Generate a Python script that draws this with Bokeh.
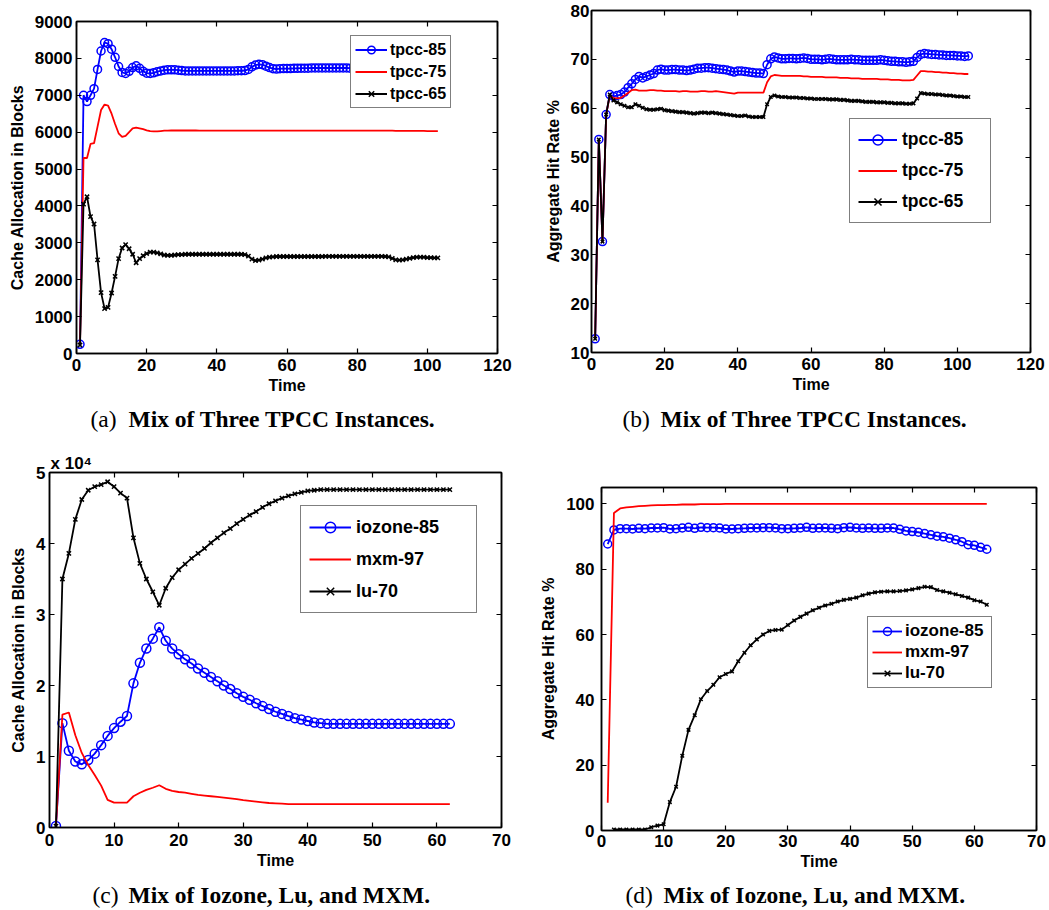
from bokeh.plotting import figure
from bokeh.layouts import column, row
from bokeh.models import Label, Legend, LegendItem, LinearAxis, FixedTicker, Range1d, Title
from bokeh.embed import file_html
from bokeh.resources import INLINE

SANS = "Liberation Sans"
SERIF = "Liberation Serif"
BLUE = "#0000ff"
RED = "#ff0000"
BLACK = "#000000"

# ---------------- data: (a) cache allocation, three TPCC instances ----------------
time_a = list(range(1, 104))
tpcc85_alloc = [
    250, 7000, 6830, 7000, 7180, 7700, 8200, 8430, 8400, 8250,
    8030, 7780, 7620, 7590, 7650, 7750, 7800, 7730, 7650, 7600,
    7590, 7610, 7640, 7660, 7680, 7690, 7690, 7690, 7680, 7670,
    7660, 7660, 7660, 7660, 7660, 7660, 7660, 7660, 7660, 7660,
    7660, 7660, 7660, 7660, 7660, 7665, 7665, 7670, 7700, 7770,
    7820, 7840, 7830, 7790, 7750, 7720, 7710, 7720, 7725, 7725,
    7725, 7730, 7730, 7735, 7735, 7735, 7740, 7740, 7740, 7740,
    7740, 7740, 7740, 7740, 7740, 7740, 7740, 7735, 7735, 7730,
    7730, 7730, 7730, 7730, 7730, 7730, 7730, 7730, 7730, 7730,
    7730, 7730, 7730, 7730, 7730, 7730, 7730, 7730, 7730, 7725,
    7725, 7725, 7720]
tpcc75_alloc = [
    230, 5300, 5300, 5680, 5700, 6150, 6600, 6750, 6720, 6500,
    6220, 5970, 5870, 5900, 6000, 6100, 6120, 6100, 6080, 6050,
    6030, 6020, 6020, 6030, 6040, 6040, 6045, 6045, 6045, 6045,
    6045, 6045, 6045, 6045, 6040, 6040, 6040, 6040, 6040, 6040,
    6040, 6040, 6040, 6040, 6040, 6040, 6040, 6040, 6040, 6040,
    6040, 6040, 6040, 6040, 6040, 6040, 6040, 6040, 6040, 6040,
    6040, 6040, 6040, 6040, 6040, 6040, 6040, 6040, 6040, 6040,
    6040, 6040, 6040, 6040, 6040, 6040, 6040, 6040, 6040, 6040,
    6040, 6040, 6040, 6040, 6040, 6040, 6040, 6040, 6040, 6040,
    6035, 6035, 6035, 6035, 6035, 6035, 6035, 6035, 6035, 6030,
    6030, 6030, 6030]
tpcc65_alloc = [
    230, 4050, 4250, 3710, 3510, 2540, 1650, 1215, 1250, 1640,
    2090, 2570, 2860, 2950, 2840, 2690, 2460, 2570, 2650, 2710,
    2750, 2750, 2730, 2700, 2670, 2660, 2660, 2670, 2680, 2680,
    2690, 2690, 2690, 2690, 2690, 2690, 2690, 2690, 2690, 2690,
    2690, 2690, 2690, 2690, 2690, 2690, 2690, 2680, 2640, 2560,
    2520, 2530, 2560, 2590, 2610, 2620, 2630, 2630, 2630, 2630,
    2630, 2630, 2630, 2630, 2630, 2630, 2630, 2630, 2630, 2630,
    2635, 2635, 2635, 2635, 2635, 2635, 2635, 2635, 2635, 2635,
    2635, 2635, 2635, 2635, 2635, 2635, 2635, 2630, 2620, 2580,
    2540, 2530, 2540, 2560, 2580, 2600, 2610, 2610, 2610, 2600,
    2600, 2590, 2590]

# ---------------- data: (b) aggregate hit rate, three TPCC instances ----------------
time_b = list(range(1, 104))
tpcc85_hit = [
    12.8, 53.6, 32.7, 58.7, 62.8, 62.4, 62.6, 62.8, 63.3, 64.2,
    65.0, 65.9, 66.5, 66.2, 66.5, 66.8, 67.1, 67.8, 68.0, 67.8,
    67.8, 67.9, 67.9, 67.8, 67.8, 67.7, 67.8, 68.0, 68.2, 68.2,
    68.3, 68.3, 68.2, 68.1, 68.0, 67.9, 67.8, 67.6, 67.4, 67.6,
    67.6, 67.5, 67.4, 67.3, 67.2, 67.2, 67.1, 68.9, 70.1, 70.5,
    70.3, 70.1, 70.1, 70.2, 70.2, 70.1, 70.2, 70.3, 70.2, 70.0,
    70.0, 70.0, 69.9, 70.0, 70.1, 70.0, 69.9, 69.9, 69.9, 69.9,
    70.0, 69.9, 69.9, 69.8, 69.8, 69.8, 69.8, 69.8, 69.9, 69.8,
    69.7, 69.6, 69.6, 69.5, 69.5, 69.4, 69.5, 69.6, 70.4, 71.0,
    71.2, 71.1, 71.0, 71.0, 70.9, 70.9, 70.8, 70.8, 70.8, 70.7,
    70.7, 70.6, 70.7]
tpcc75_hit = [
    12.8, 53.6, 32.7, 58.7, 62.6, 62.1, 62.0, 62.1, 62.6, 63.1,
    63.7, 63.8, 63.6, 63.6, 63.6, 63.7, 63.7, 63.6, 63.6, 63.5,
    63.5, 63.5, 63.5, 63.4, 63.5, 63.5, 63.4, 63.4, 63.4, 63.5,
    63.5, 63.4, 63.4, 63.5, 63.4, 63.3, 63.2, 63.1, 63.0, 63.2,
    63.2, 63.2, 63.2, 63.2, 63.2, 63.2, 63.2, 65.3, 66.5, 66.8,
    66.7, 66.6, 66.6, 66.6, 66.6, 66.6, 66.6, 66.5, 66.5, 66.4,
    66.4, 66.4, 66.4, 66.3, 66.3, 66.3, 66.3, 66.2, 66.2, 66.2,
    66.1, 66.1, 66.1, 66.0, 66.0, 66.0, 66.0, 66.0, 65.9, 65.9,
    65.9, 65.8, 65.8, 65.8, 65.7, 65.7, 65.7, 65.8, 66.7, 67.6,
    67.6, 67.5, 67.5, 67.4, 67.4, 67.3, 67.3, 67.2, 67.2, 67.1,
    67.1, 67.0, 67.0]
tpcc65_hit = [
    12.8, 53.6, 32.7, 58.7, 62.8, 61.6, 61.2, 60.8, 60.5, 60.2,
    60.2, 60.8, 60.5, 60.1, 59.8, 59.7, 59.7, 59.8, 59.9, 59.6,
    59.5, 59.4, 59.3, 59.2, 59.2, 59.1, 59.0, 58.9, 59.0, 59.1,
    59.1, 59.0, 59.1, 59.0, 58.9, 58.8, 58.7, 58.6, 58.5, 58.4,
    58.4, 58.5, 58.3, 58.2, 58.2, 58.2, 58.2, 60.8, 62.3, 62.6,
    62.4, 62.3, 62.3, 62.2, 62.2, 62.2, 62.1, 62.1, 62.0, 62.0,
    61.9, 61.9, 61.9, 61.9, 61.8, 61.8, 61.8, 61.7, 61.7, 61.6,
    61.5, 61.5, 61.5, 61.4, 61.3, 61.3, 61.3, 61.2, 61.2, 61.2,
    61.1, 61.1, 61.0, 61.0, 61.0, 60.9, 60.9, 61.0, 62.0, 63.1,
    63.0, 62.9, 62.9, 62.8, 62.8, 62.7, 62.6, 62.6, 62.5, 62.4,
    62.4, 62.3, 62.3]

# ---------------- data: (c) cache allocation (x 10^4 blocks), Iozone/Lu/MXM ----------------
time_c = list(range(1, 63))
iozone85_alloc = [
    0.02, 1.47, 1.08, 0.93, 0.89, 0.95, 1.04, 1.16, 1.29, 1.40,
    1.49, 1.57, 2.03, 2.32, 2.52, 2.66, 2.82, 2.63, 2.52, 2.44,
    2.37, 2.31, 2.24, 2.18, 2.12, 2.06, 2.00, 1.95, 1.89, 1.84,
    1.80, 1.75, 1.71, 1.67, 1.63, 1.60, 1.57, 1.54, 1.52, 1.50,
    1.48, 1.47, 1.46, 1.46, 1.46, 1.46, 1.46, 1.46, 1.46, 1.46,
    1.46, 1.46, 1.46, 1.46, 1.46, 1.46, 1.46, 1.46, 1.46, 1.46,
    1.46, 1.46]
mxm97_alloc = [
    0.02, 1.59, 1.62, 1.30, 1.05, 0.88, 0.74, 0.59, 0.39, 0.35,
    0.35, 0.35, 0.44, 0.49, 0.53, 0.56, 0.595, 0.545, 0.515, 0.50,
    0.49, 0.475, 0.46, 0.45, 0.44, 0.43, 0.42, 0.41, 0.40, 0.385,
    0.375, 0.365, 0.355, 0.345, 0.34, 0.335, 0.33, 0.33, 0.33, 0.33,
    0.33, 0.33, 0.33, 0.33, 0.33, 0.33, 0.33, 0.33, 0.33, 0.33,
    0.33, 0.33, 0.33, 0.33, 0.33, 0.33, 0.33, 0.33, 0.33, 0.33,
    0.33, 0.33]
lu70_alloc = [
    0.02, 3.50, 3.86, 4.34, 4.62, 4.75, 4.80, 4.83, 4.87, 4.80,
    4.71, 4.64, 4.08, 3.72, 3.50, 3.32, 3.13, 3.37, 3.52, 3.63,
    3.71, 3.79, 3.86, 3.93, 4.01, 4.08, 4.15, 4.21, 4.28, 4.34,
    4.40, 4.45, 4.51, 4.56, 4.60, 4.64, 4.67, 4.70, 4.72, 4.74,
    4.75, 4.76, 4.76, 4.76, 4.76, 4.76, 4.76, 4.76, 4.76, 4.76,
    4.76, 4.76, 4.76, 4.76, 4.76, 4.76, 4.76, 4.76, 4.76, 4.76,
    4.76, 4.76]

# ---------------- data: (d) aggregate hit rate, Iozone/Lu/MXM ----------------
time_d = list(range(1, 63))
iozone85_hit = [
    87.7, 92.0, 92.4, 92.4, 92.3, 92.5, 92.4, 92.6, 92.6, 92.7,
    92.3, 92.4, 92.6, 92.8, 92.5, 92.8, 92.7, 92.7, 92.6, 92.3,
    92.3, 92.4, 92.5, 92.6, 92.6, 92.7, 92.7, 92.6, 92.4, 92.4,
    92.5, 92.6, 92.8, 92.5, 92.6, 92.6, 92.5, 92.4, 92.7, 92.8,
    92.6, 92.5, 92.6, 92.5, 92.5, 92.6, 92.6, 92.2, 91.7, 91.5,
    91.3, 90.9, 90.5, 90.1, 89.9, 89.5, 89.0, 88.4, 87.5, 87.3,
    86.7, 86.1]
mxm97_hit = [
    8.5, 97.2, 98.6, 98.9, 99.1, 99.3, 99.4, 99.5, 99.6, 99.6,
    99.7, 99.7, 99.8, 99.8, 99.8, 99.9, 99.9, 99.9, 99.9, 100.0,
    100.0, 100.0, 100.0, 100.0, 100.0, 100.0, 100.0, 100.0, 100.0, 100.0,
    100.0, 100.0, 100.0, 100.0, 100.0, 100.0, 100.0, 100.0, 100.0, 100.0,
    100.0, 100.0, 100.0, 100.0, 100.0, 100.0, 100.0, 100.0, 100.0, 100.0,
    100.0, 100.0, 100.0, 100.0, 100.0, 100.0, 100.0, 100.0, 100.0, 100.0,
    100.0, 100.0]
time_d_lu = list(range(2, 63))
lu70_hit = [
    0.3, 0.3, 0.3, 0.3, 0.3, 0.3, 1.0, 1.5, 1.9,
    8.7, 13.4, 22.9, 30.8, 35.3, 40.2, 42.7, 44.6, 46.9, 47.9,
    48.7, 51.8, 54.4, 56.7, 58.5, 60.0, 61.1, 61.4, 61.5, 62.9,
    64.3, 65.4, 66.4, 67.4, 68.2, 68.9, 69.4, 70.1, 70.6, 70.9,
    71.3, 72.0, 72.5, 72.9, 73.1, 73.2, 73.2, 73.3, 73.5, 73.8,
    74.2, 74.6, 74.5, 73.6, 73.2, 72.8, 72.3, 71.8, 71.3, 70.5,
    70.1, 69.1]

x_ticks_a = [0, 20, 40, 60, 80, 100, 120]
y_ticks_a = [0, 1000, 2000, 3000, 4000, 5000, 6000, 7000, 8000, 9000]
y_ticks_b = [10, 20, 30, 40, 50, 60, 70, 80]
x_ticks_c = [0, 10, 20, 30, 40, 50, 60, 70]
y_ticks_c = [0, 1, 2, 3, 4, 5]
y_ticks_d = [0, 20, 40, 60, 80, 100]

captions_top = [("(a)", "Mix of Three TPCC Instances."), ("(b)", "Mix of Three TPCC Instances.")]
captions_bottom = [("(c)", "Mix of Iozone, Lu, and MXM."), ("(d)", "Mix of Iozone, Lu, and MXM.")]


def style_axis(ax, ticks, standoff, label_standoff):
    ax.ticker = FixedTicker(ticks=ticks)
    ax.major_tick_in = 5
    ax.major_tick_out = 0
    ax.minor_tick_in = 0
    ax.minor_tick_out = 0
    ax.axis_line_color = "black"
    ax.axis_line_width = 1.5
    ax.major_tick_line_color = "black"
    ax.major_tick_line_width = 1.2
    ax.major_label_text_font = SANS
    ax.major_label_text_font_size = "17px"
    ax.major_label_text_font_style = "bold"
    ax.major_label_text_color = "black"
    ax.major_label_standoff = standoff
    ax.axis_label_text_font = SANS
    ax.axis_label_text_font_size = "16px"
    ax.axis_label_text_font_style = "bold"
    ax.axis_label_text_color = "black"
    ax.axis_label_standoff = label_standoff


def mirror_axis(ticks):
    return LinearAxis(ticker=FixedTicker(ticks=ticks), major_label_text_font_size="0px",
                      major_label_text_color=None, major_label_standoff=0,
                      major_tick_in=5, major_tick_out=0, minor_tick_in=0, minor_tick_out=0,
                      axis_line_width=1.5, major_tick_line_width=1.2)


def make_panel(w, h, frame, xr, yr, xticks, yticks, ylabel, ystand, xstand):
    left, top, right, bottom = frame
    p = figure(width=w, height=h, output_backend="svg", toolbar_location=None,
               x_range=Range1d(xr[0], xr[1]), y_range=Range1d(yr[0], yr[1]),
               min_border_left=left, min_border_right=w - right,
               min_border_top=top, min_border_bottom=h - bottom,
               x_axis_label="Time", y_axis_label=ylabel)
    p.frame_align = False
    p.xgrid.visible = False
    p.ygrid.visible = False
    p.outline_line_color = "black"
    p.outline_line_width = 1.5
    p.background_fill_color = "white"
    p.border_fill_color = "white"
    style_axis(p.xaxis[0], xticks, xstand, 3)
    style_axis(p.yaxis[0], yticks, ystand, 6)
    p.add_layout(mirror_axis(xticks), "above")
    p.add_layout(mirror_axis(yticks), "right")
    return p


def add_series(p, x, y, color, marker, msize, label):
    r_line = p.line(x, y, line_color=color, line_width=1.8)
    rs = [r_line]
    if marker is not None:
        r_m = p.scatter(x, y, marker=marker, size=msize, line_color=color, fill_color=None,
                        line_width=1.5)
        rs.append(r_m)
    return LegendItem(label=label, renderers=rs)


def add_legend(p, items, loc, font_size, glyph_w, row_h, spacing, padding, standoff, label_w):
    leg = Legend(items=items, location=loc, orientation="vertical",
                 border_line_color="black", border_line_width=1.5,
                 background_fill_color="white", background_fill_alpha=1.0,
                 label_text_font=SANS, label_text_font_style="bold",
                 label_text_font_size=font_size, label_text_color="black",
                 glyph_width=glyph_w, glyph_height=row_h, label_height=row_h,
                 label_standoff=standoff, padding=padding, spacing=spacing, margin=0,
                 label_width=label_w)
    p.add_layout(leg)


def caption_fig(h, caps, positions, baseline):
    f = figure(width=1049, height=h, output_backend="svg", toolbar_location=None,
               x_range=Range1d(0, 1049), y_range=Range1d(h, 0),
               min_border=0, x_axis_type=None, y_axis_type=None)
    f.frame_align = False
    f.outline_line_color = None
    f.background_fill_color = "white"
    f.border_fill_color = "white"
    for (letter, text), (px_letter, px_text) in zip(caps, positions):
        f.add_layout(Label(x=px_letter, y=baseline, text=letter, text_font=SERIF,
                           text_font_size="23.5px", text_font_style="normal",
                           text_baseline="alphabetic", text_align="left", text_color="black"))
        f.add_layout(Label(x=px_text, y=baseline, text=text, text_font=SERIF,
                           text_font_size="23.5px", text_font_style="bold",
                           text_baseline="alphabetic", text_align="left", text_color="black"))
    return f


# ---------------- panel (a) ----------------
pa = make_panel(530, 400, (76, 21, 497, 353), (0, 120), (0, 9000), x_ticks_a, y_ticks_a,
                "Cache Allocation in Blocks", 4, 5)
ia = [add_series(pa, time_a, tpcc85_alloc, BLUE, "circle", 8, "tpcc-85"),
      add_series(pa, time_a, tpcc75_alloc, RED, None, 0, "tpcc-75"),
      add_series(pa, time_a, tpcc65_alloc, BLACK, "x", 6, "tpcc-65")]
add_legend(pa, ia, (274, 245), "16px", 32, 19, 3, 4, 3, 20)

# ---------------- panel (b) ----------------
pb = make_panel(519, 400, (61, 10, 500, 352), (0, 120), (10, 80), x_ticks_a, y_ticks_b,
                "Aggregate Hit Rate %", 2, 5)
ib = [add_series(pb, time_b, tpcc85_hit, BLUE, "circle", 8, "tpcc-85"),
      add_series(pb, time_b, tpcc75_hit, RED, None, 0, "tpcc-75"),
      add_series(pb, time_b, tpcc65_hit, BLACK, "x", 5, "tpcc-65")]
add_legend(pb, ib, (258, 129), "17.5px", 39, 25, 6, 8, 5, 80)

cap1 = caption_fig(50, captions_top, [(90, 128), (622, 660)], 18)

# ---------------- panel (c) ----------------
pc = make_panel(530, 424, (49, 22, 501, 377), (0, 70), (0, 5), x_ticks_c, y_ticks_c,
                "Cache Allocation in Blocks", 4, 6)
pc.title = Title(text="x 10\u2074", align="left", offset=1, standoff=0,
                 text_font=SANS, text_font_size="17px", text_font_style="bold",
                 text_color="black")
ic = [add_series(pc, time_c, iozone85_alloc, BLUE, "circle", 9, "iozone-85"),
      add_series(pc, time_c, mxm97_alloc, RED, None, 0, "mxm-97"),
      add_series(pc, time_c, lu70_alloc, BLACK, "x", 6, "lu-70")]
add_legend(pc, ic, (251, 214), "18px", 42, 26, 6, 8, 5, 112)

# ---------------- panel (d) ----------------
pd = make_panel(519, 424, (71, 37, 506, 380), (0, 70), (0, 105), x_ticks_c, y_ticks_d,
                "Aggregate Hit Rate %", 7, 4)
idd = [add_series(pd, time_d, iozone85_hit, BLUE, "circle", 8, "iozone-85"),
       add_series(pd, time_d, mxm97_hit, RED, None, 0, "mxm-97"),
       add_series(pd, time_d_lu, lu70_hit, BLACK, "x", 5, "lu-70")]
add_legend(pd, idd, (266, 142), "17px", 30, 20, 1, 4, 3, 82)

cap2 = caption_fig(36, captions_bottom, [(92, 128), (625, 663)], 20)

layout = column(row(pa, pb), cap1, row(pc, pd), cap2)
open("out.html", "w").write(file_html(layout, INLINE))
